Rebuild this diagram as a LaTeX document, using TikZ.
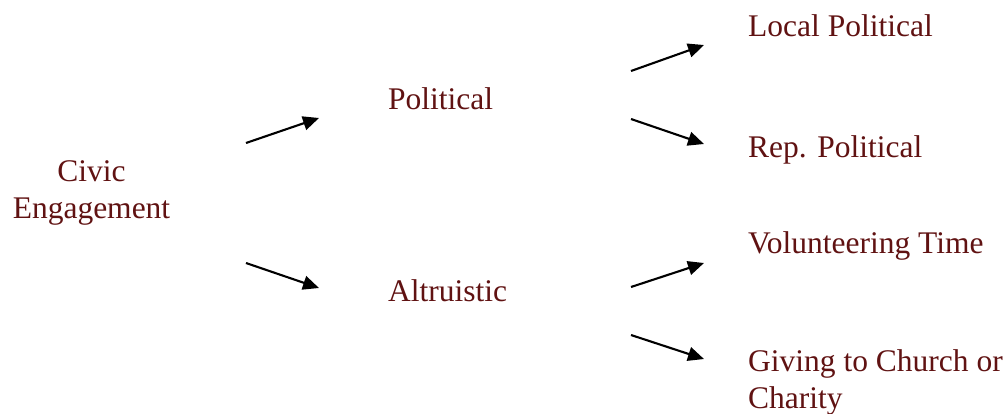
\documentclass[tikz,border=0pt]{standalone}
\usepackage{fontspec}
\setmainfont{Liberation Serif}
\usetikzlibrary{arrows.meta}
\definecolor{maroon}{RGB}{96,18,18}
\tikzset{
  lbl/.style={inner sep=0pt, text=maroon, font=\fontsize{31.5}{36.5}\selectfont},
  arr/.style={draw=black, line width=2.1pt, -{Triangle[length=16pt,width=14pt]}}
}
\begin{document}
\begin{tikzpicture}[x=1pt,y=-1pt]
\useasboundingbox (0,0) rectangle (1008,413);
\node[lbl, anchor=base, align=center] (civic) at (91.5,218) {Civic\\Engagement};
\node[lbl, anchor=base west] (pol) at (388,109) {Political};
\node[lbl, anchor=base west] (alt) at (388,301) {Altruistic};
\node[lbl, anchor=base west] (loc) at (748,36) {Local Political};
\node[lbl, anchor=base west] (rep) at (748,157) {Rep. Political};
\node[lbl, anchor=base west] (vol) at (748,253) {Volunteering Time};
\node[lbl, anchor=base west, align=left] (giv) at (748,408) {Giving to Church or\\Charity};
\coordinate (c1s) at (246,143); \coordinate (c1e) at (319,118);
\coordinate (c2s) at (246,263); \coordinate (c2e) at (319,288);
\coordinate (p1s) at (631,71);  \coordinate (p1e) at (704,45);
\coordinate (p2s) at (631,119); \coordinate (p2e) at (704,144);
\coordinate (a1s) at (631,287); \coordinate (a1e) at (704,263);
\coordinate (a2s) at (631,335); \coordinate (a2e) at (704,359);
\draw[arr] (c1s) -- (c1e);
\draw[arr] (c2s) -- (c2e);
\draw[arr] (p1s) -- (p1e);
\draw[arr] (p2s) -- (p2e);
\draw[arr] (a1s) -- (a1e);
\draw[arr] (a2s) -- (a2e);
\end{tikzpicture}
\end{document}
